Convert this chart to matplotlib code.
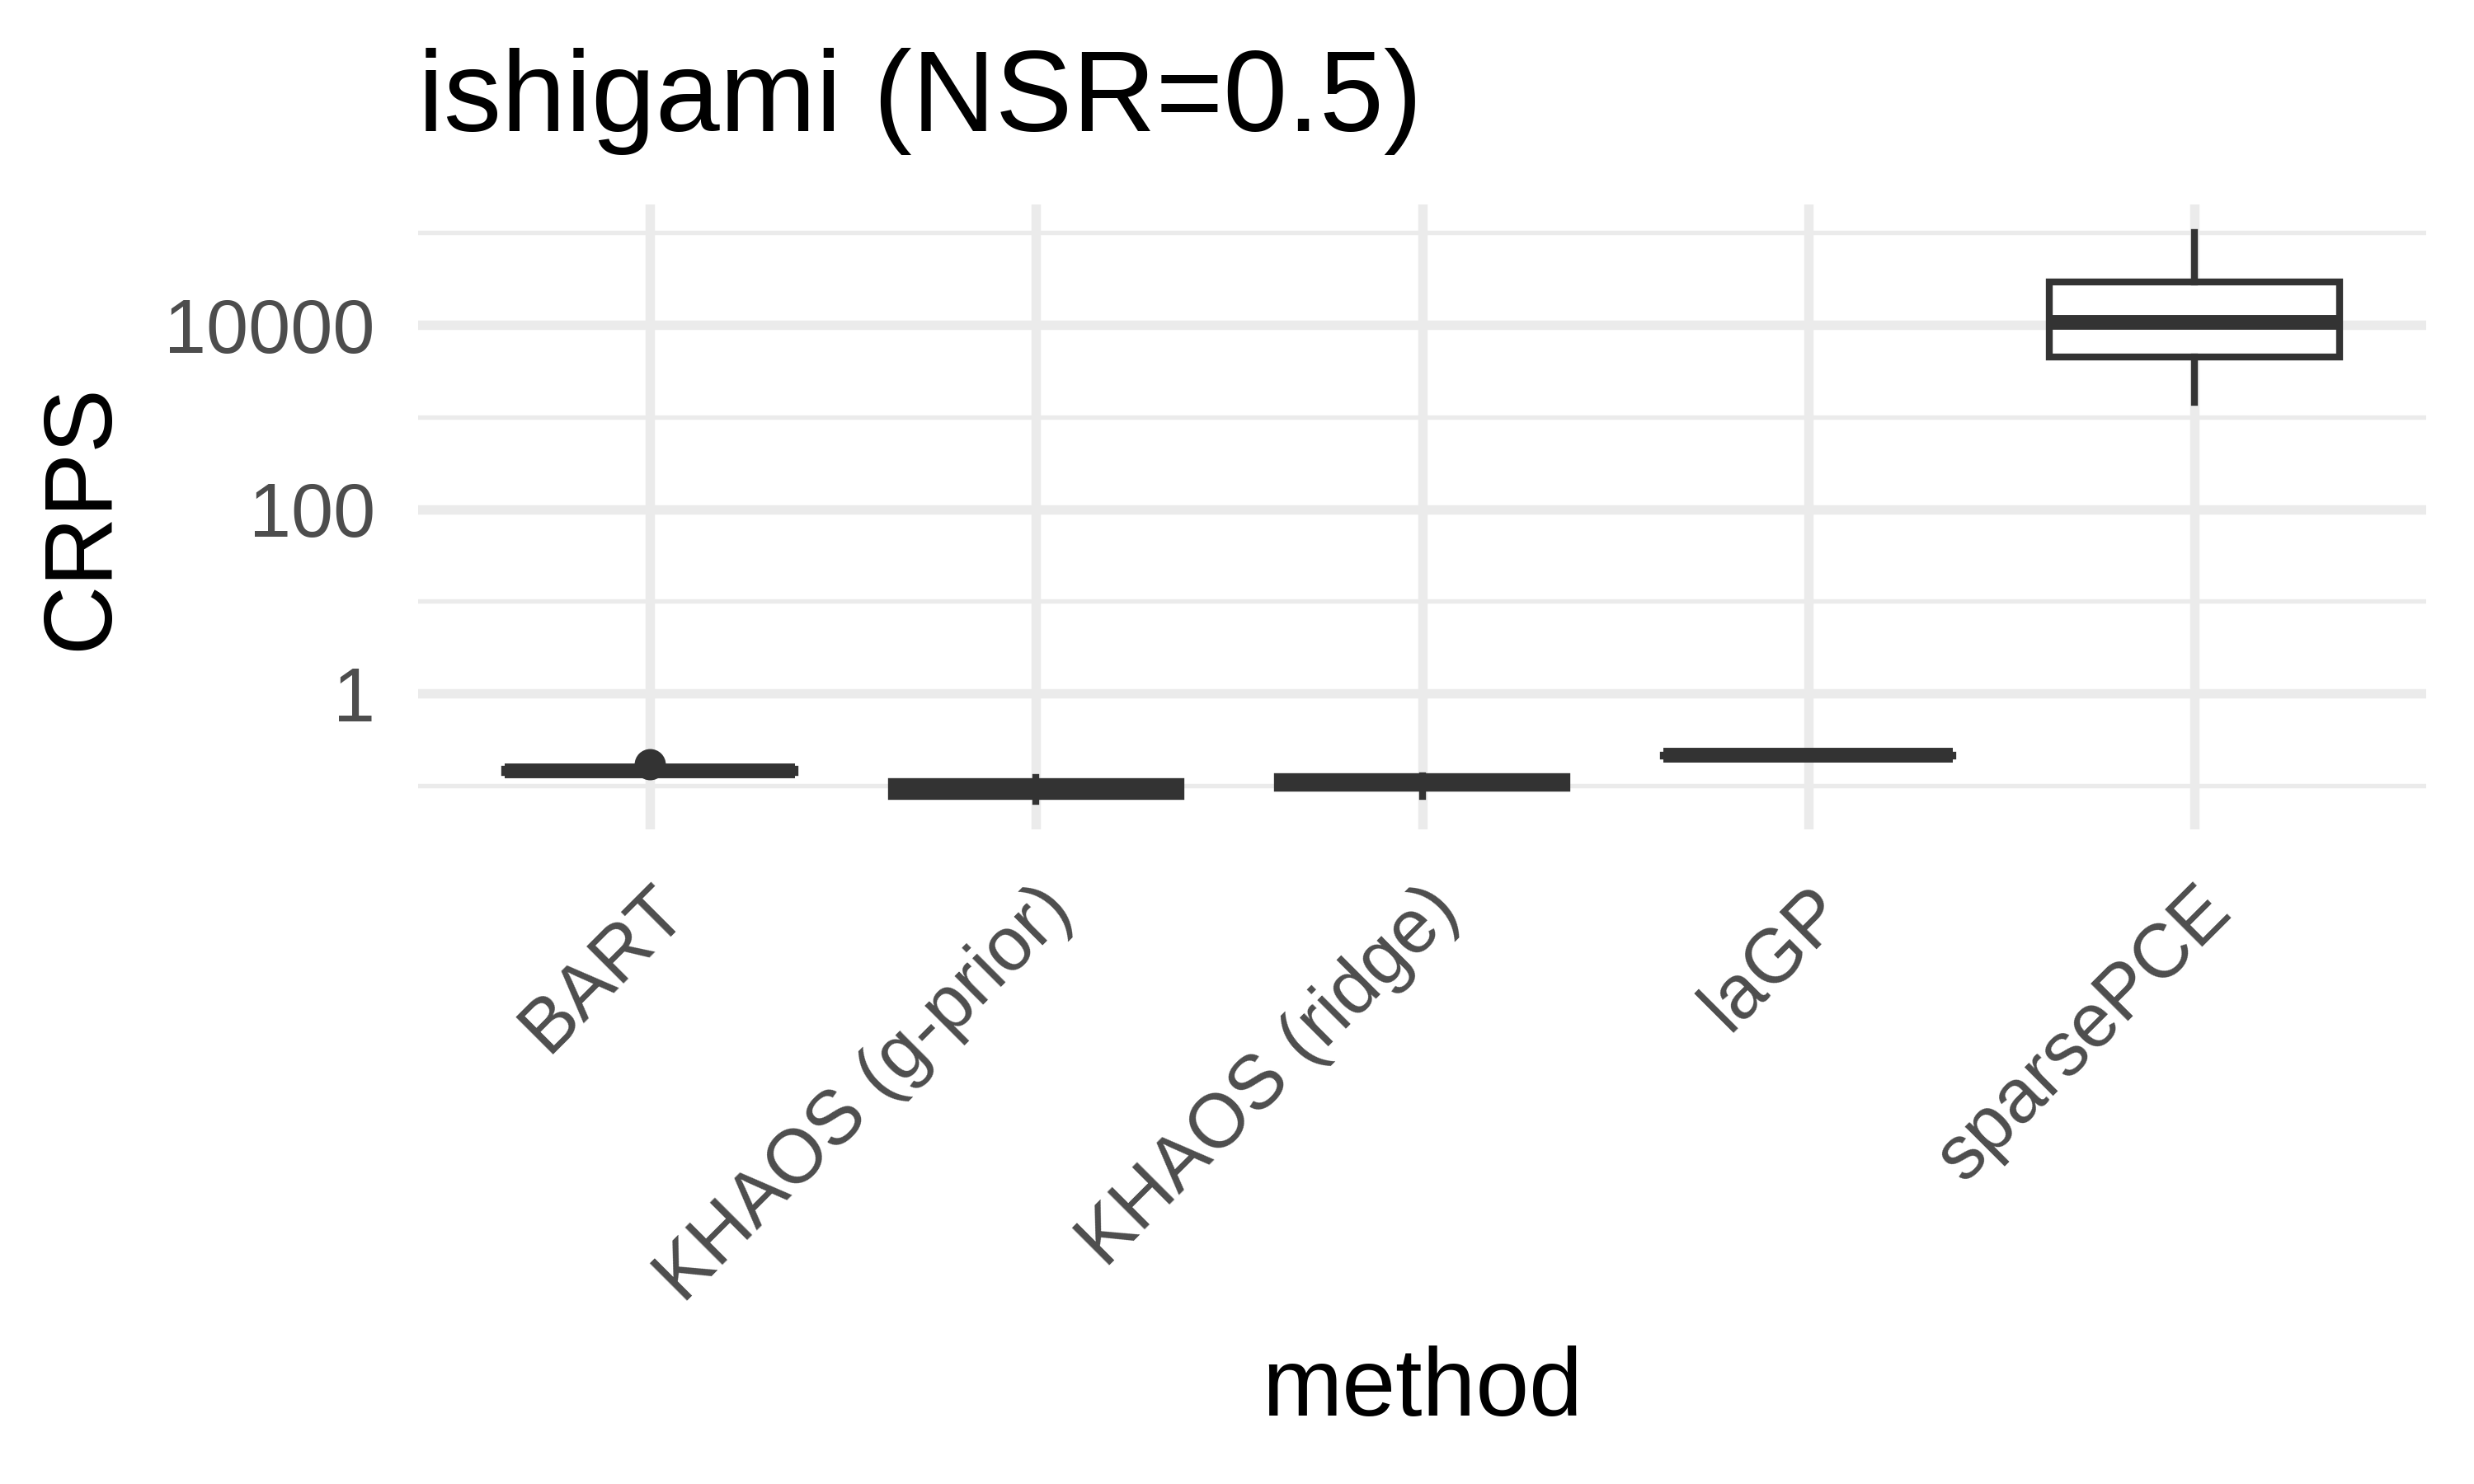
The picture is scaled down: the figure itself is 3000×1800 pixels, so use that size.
import numpy as np
import matplotlib
matplotlib.use("Agg")
import matplotlib.pyplot as plt
from matplotlib.ticker import FixedLocator, NullFormatter

plt.rcParams['font.family'] = ['Liberation Sans', 'DejaVu Sans']

# ---- data ----
methods = ["BART", "KHAOS (g-prior)", "KHAOS (ridge)", "laGP", "sparsePCE"]
whislo = [0.138, 0.0680, 0.077, 0.205, 1430.0]
q1     = [0.140, 0.0769, 0.0933, 0.210, 4463.0]
med    = [0.1436, 0.093, 0.110, 0.213, 10570.0]
q3     = [0.151, 0.111, 0.1256, 0.216, 29400.0]
whishi = [0.153, 0.124, 0.127, 0.220, 100000.0]
outliers = [[0.171], [], [], [], []]

major_breaks = [1, 100, 10000]
major_labels = ["1", "100", "10000"]
minor_breaks = [0.1, 10, 1000, 100000]

title = "ishigami (NSR=0.5)"
xlab = "method"
ylab = "CRPS"

# ---- figure ----
fig = plt.figure(figsize=(10, 6), dpi=300, facecolor="white")
ax = fig.add_axes([507/3000, 1 - 1006.2/1800, (2942 - 507)/3000, (1006.2 - 247.8)/1800])
ax.set_facecolor("white")

stats = []
for i, m in enumerate(methods):
    stats.append(dict(label=m, whislo=whislo[i], q1=q1[i], med=med[i],
                      q3=q3[i], whishi=whishi[i], fliers=outliers[i]))

dark = "#333333"
pos = np.arange(1, len(methods) + 1)
ax.bxp(stats, positions=pos, widths=0.75, patch_artist=True, showcaps=False,
       boxprops=dict(facecolor="white", edgecolor=dark, linewidth=2.0),
       medianprops=dict(color=dark, linewidth=4.3, solid_capstyle="butt"),
       whiskerprops=dict(color=dark, linewidth=2.0),
       flierprops=dict(marker="o", markersize=9.1, markerfacecolor=dark,
                       markeredgecolor="none", linestyle="none"))

ax.set_yscale("log")
lo = np.log10(min(whislo + [v for o in outliers for v in o]))
hi = np.log10(max(whishi + [v for o in outliers for v in o]))
rng = hi - lo
ax.set_ylim(10 ** (lo - 0.05 * rng), 10 ** (hi + 0.05 * rng))
ax.set_xlim(0.4, len(methods) + 0.6)

ax.yaxis.set_major_locator(FixedLocator(major_breaks))
ax.set_yticklabels(major_labels)
ax.yaxis.set_minor_locator(FixedLocator(minor_breaks))
ax.yaxis.set_minor_formatter(NullFormatter())
ax.set_xticks(pos)
ax.set_xticklabels(methods)

grid_c = "#EBEBEB"
ax.set_axisbelow(True)
ax.grid(True, which="major", axis="both", color=grid_c, linewidth=2.75)
ax.grid(True, which="minor", axis="y", color=grid_c, linewidth=1.3)
for s in ax.spines.values():
    s.set_visible(False)

ax.tick_params(axis="both", which="both", length=0)
ax.tick_params(axis="y", labelsize=22, labelcolor="#4D4D4D", pad=12.5)
ax.tick_params(axis="x", labelsize=22, labelcolor="#4D4D4D", pad=13.0)
for lbl in ax.get_xticklabels():
    lbl.set_rotation(45)
    lbl.set_ha("right")
    lbl.set_va("top")
    lbl.set_rotation_mode("anchor")

fig.text(507/3000, 1 - 158.7/1800, title, fontsize=33.6, color="black",
         ha="left", va="baseline")
fig.text(100/3000, 1 - 627/1800, ylab, fontsize=28, color="black",
         rotation=90, ha="center", va="center")
fig.text(1724.5/3000, 1 - 1717/1800, xlab, fontsize=28, color="black",
         ha="center", va="baseline")

fig.savefig("out.png", dpi=300, facecolor="white")
